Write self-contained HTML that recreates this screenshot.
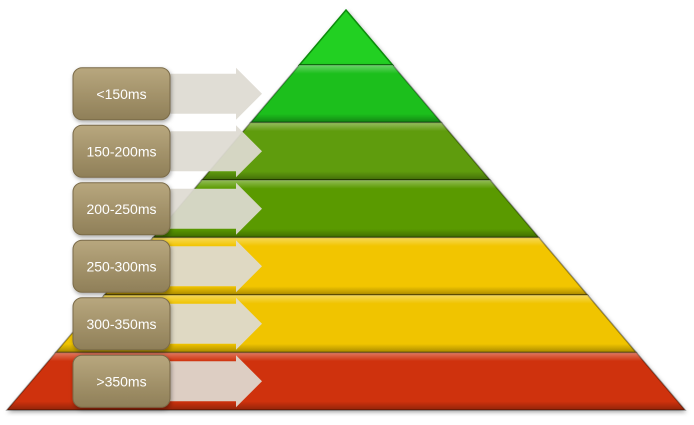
<!DOCTYPE html>
<html><head><meta charset="utf-8"><style>
html,body{margin:0;padding:0;background:#fff;}
svg{display:block;font-family:"Liberation Sans",sans-serif;}
</style></head><body>
<svg id="c" width="694" height="425" viewBox="0 0 694 425">
<defs>
<linearGradient id="box" x1="0" y1="0" x2="0" y2="1"><stop offset="0" stop-color="#b8a77e"/><stop offset="1" stop-color="#8f7f58"/></linearGradient>
<linearGradient id="shade" x1="0" y1="0" x2="0" y2="1"><stop offset="0" stop-color="#fff" stop-opacity="0.35"/><stop offset="0.15" stop-color="#fff" stop-opacity="0"/><stop offset="0.85" stop-color="#000" stop-opacity="0"/><stop offset="1" stop-color="#000" stop-opacity="0.3"/></linearGradient>
<filter id="sh" x="-10%" y="-10%" width="130%" height="140%"><feDropShadow dx="1" dy="2" stdDeviation="2" flood-opacity="0.35"/></filter>
</defs>
<g id="layers"></g>
<g id="labels"></g>
</svg>
<script>
const labels=["<150ms","150-200ms","200-250ms","250-300ms","300-350ms",">350ms"];
const colors=["#1fbf1f","#5f9c08","#5a9a06","#f2c500","#f0c400","#cf320a"];
const NS="http://www.w3.org/2000/svg";
const apexX=346,apexY=10,baseY=410,halfBase=339;
const topY=65;
const bandH=(baseY-topY)/labels.length;
function hw(y){return (y-apexY)/(baseY-apexY)*halfBase;}
const L=document.getElementById('layers'),G=document.getElementById('labels');
function mk(t,a,p){const e=document.createElementNS(NS,t);for(const k in a)e.setAttribute(k,a[k]);p.appendChild(e);return e;}
// top triangle
let tri=mk('polygon',{points:`${apexX},${apexY} ${apexX+hw(topY)},${topY} ${apexX-hw(topY)},${topY}`,fill:'#22d022',stroke:'#0b8a0b','stroke-width':1.5,filter:'url(#sh)'},L);


labels.forEach((lab,i)=>{
 const y0=topY+i*bandH,y1=y0+bandH;
 const pts=`${apexX-hw(y0)},${y0} ${apexX+hw(y0)},${y0} ${apexX+hw(y1)},${y1} ${apexX-hw(y1)},${y1}`;
 const b=mk('polygon',{points:pts,fill:colors[i],stroke:'rgba(0,0,0,0.35)','stroke-width':1.5,filter:'url(#sh)'},L);
 
 
 const s=mk('polygon',{points:pts,fill:'url(#shade)'},L);
 
 
 const cy=(y0+y1)/2;
 const ar=mk('polygon',{points:`165,${cy-20} 236,${cy-20} 236,${cy-26} 262,${cy} 236,${cy+26} 236,${cy+20} 165,${cy+20}`,fill:'#dedad2','fill-opacity':0.93},G);
 
 
 const r=mk('rect',{x:73,y:cy-26,width:97,height:52,rx:9,fill:'url(#box)',stroke:'#7a6b48','stroke-width':1,filter:'url(#sh)'},G);
 
 
 const t=mk('text',{x:121.5,y:cy+5,'text-anchor':'middle','font-size':14,fill:'#fff'},G);
 t.textContent=lab;
 
 
});
</script>
</body></html>
